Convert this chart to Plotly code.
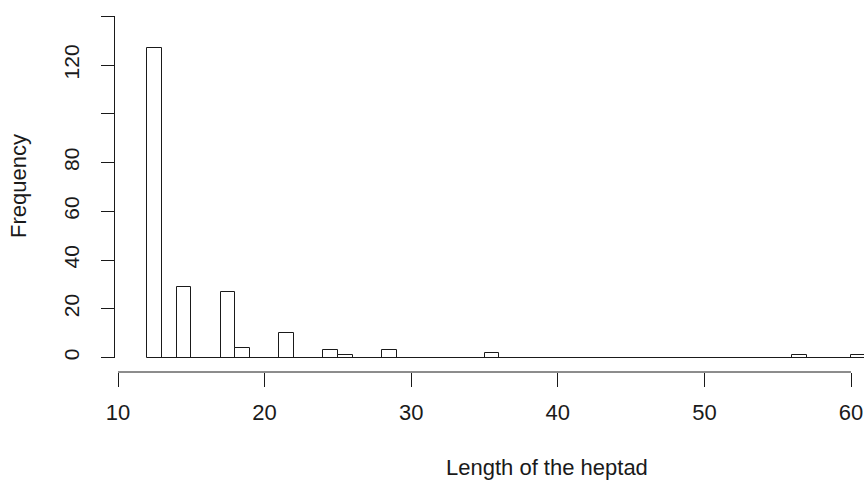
import plotly.graph_objects as go

# Histogram data (bin width 1, bins [left, left+1))
bin_lefts = [12, 14, 17, 18, 21, 24, 25, 28, 35, 56, 60]
bin_counts = [127, 29, 27, 4, 10, 3, 1, 3, 2, 1, 1]
bin_width = 1

x_ticks = [10, 20, 30, 40, 50, 60]
y_ticks = [0, 20, 40, 60, 80, 100, 120, 140]
y_ticktext = ["0", "20", "40", "60", "80", "", "120", ""]

x_title = "Length of the heptad"
y_title = "Frequency"

W, H = 864, 480
FONT = "Liberation Sans, Arial, sans-serif"
INK = "#1a1a1a"

# full set of bins (zeros included) from first to last edge
first_edge = min(bin_lefts)
last_edge = max(bin_lefts) + bin_width
count_map = dict(zip(bin_lefts, bin_counts))
all_lefts = list(range(first_edge, last_edge, bin_width))
all_counts = [count_map.get(b, 0) for b in all_lefts]
centers = [b + bin_width / 2 for b in all_lefts]

# pixel calibration
px10, px60 = 118.0, 851.0
upp = (60 - 10) / (px60 - px10)
x_range = [10 - px10 * upp, 60 + (W - px60) * upp]
y0_px, y120_px = 357.5, 65.0
ppu = (y0_px - y120_px) / 120.0
y_range = [-(H - y0_px) / ppu, y0_px / ppu]

xaxis_pos = (H - 372.0) / H
yaxis_pos = 114.5 / W

fig = go.Figure()
fig.add_trace(go.Bar(
    x=centers, y=all_counts, width=[bin_width] * len(centers),
    marker=dict(color="white", line=dict(color=INK, width=1)),
    showlegend=False, hoverinfo="x+y",
))
# histogram baseline across all bins
fig.add_trace(go.Scatter(
    x=[first_edge, last_edge], y=[0, 0], mode="lines",
    line=dict(color=INK, width=1), showlegend=False, hoverinfo="skip",
))

fig.update_layout(
    width=W, height=H,
    margin=dict(l=0, r=0, t=0, b=0),
    paper_bgcolor="white", plot_bgcolor="white",
    font=dict(family=FONT, color=INK),
    bargap=0,
    xaxis=dict(
        range=x_range, domain=[0, 1], anchor="free", position=xaxis_pos,
        tickmode="array", tickvals=x_ticks,
        ticks="outside", ticklen=14, tickwidth=1, tickcolor=INK,
        showline=False, showgrid=False, zeroline=False,
        tickfont=dict(size=22, family=FONT, color=INK),
        ticklabelstandoff=7,
    ),
    yaxis=dict(
        range=y_range, domain=[0, 1], anchor="free", position=yaxis_pos,
        tickmode="array", tickvals=y_ticks, ticktext=y_ticktext,
        ticks="outside", ticklen=14, tickwidth=1, tickcolor=INK,
        showline=False, showgrid=False, zeroline=False,
        tickangle=-90,
        tickfont=dict(size=21, family=FONT, color=INK),
        ticklabelstandoff=13,
    ),
    shapes=[
        dict(type="line", xref="x", yref="paper",
             x0=min(x_ticks), x1=max(x_ticks), y0=xaxis_pos, y1=xaxis_pos,
             line=dict(color=INK, width=1)),
        dict(type="line", xref="paper", yref="y",
             x0=yaxis_pos, x1=yaxis_pos, y0=min(y_ticks), y1=max(y_ticks),
             line=dict(color=INK, width=1)),
    ],
    annotations=[
        dict(text=x_title, xref="paper", yref="paper",
             x=546.7 / W, y=(H - 467.0) / H, xanchor="center", yanchor="middle",
             showarrow=False, font=dict(size=22, family=FONT, color=INK)),
        dict(text=y_title, xref="paper", yref="paper",
             x=19.0 / W, y=(H - 186.0) / H, xanchor="center", yanchor="middle",
             textangle=-90, showarrow=False,
             font=dict(size=22, family=FONT, color=INK)),
    ],
)

fig.write_html("out.html")
